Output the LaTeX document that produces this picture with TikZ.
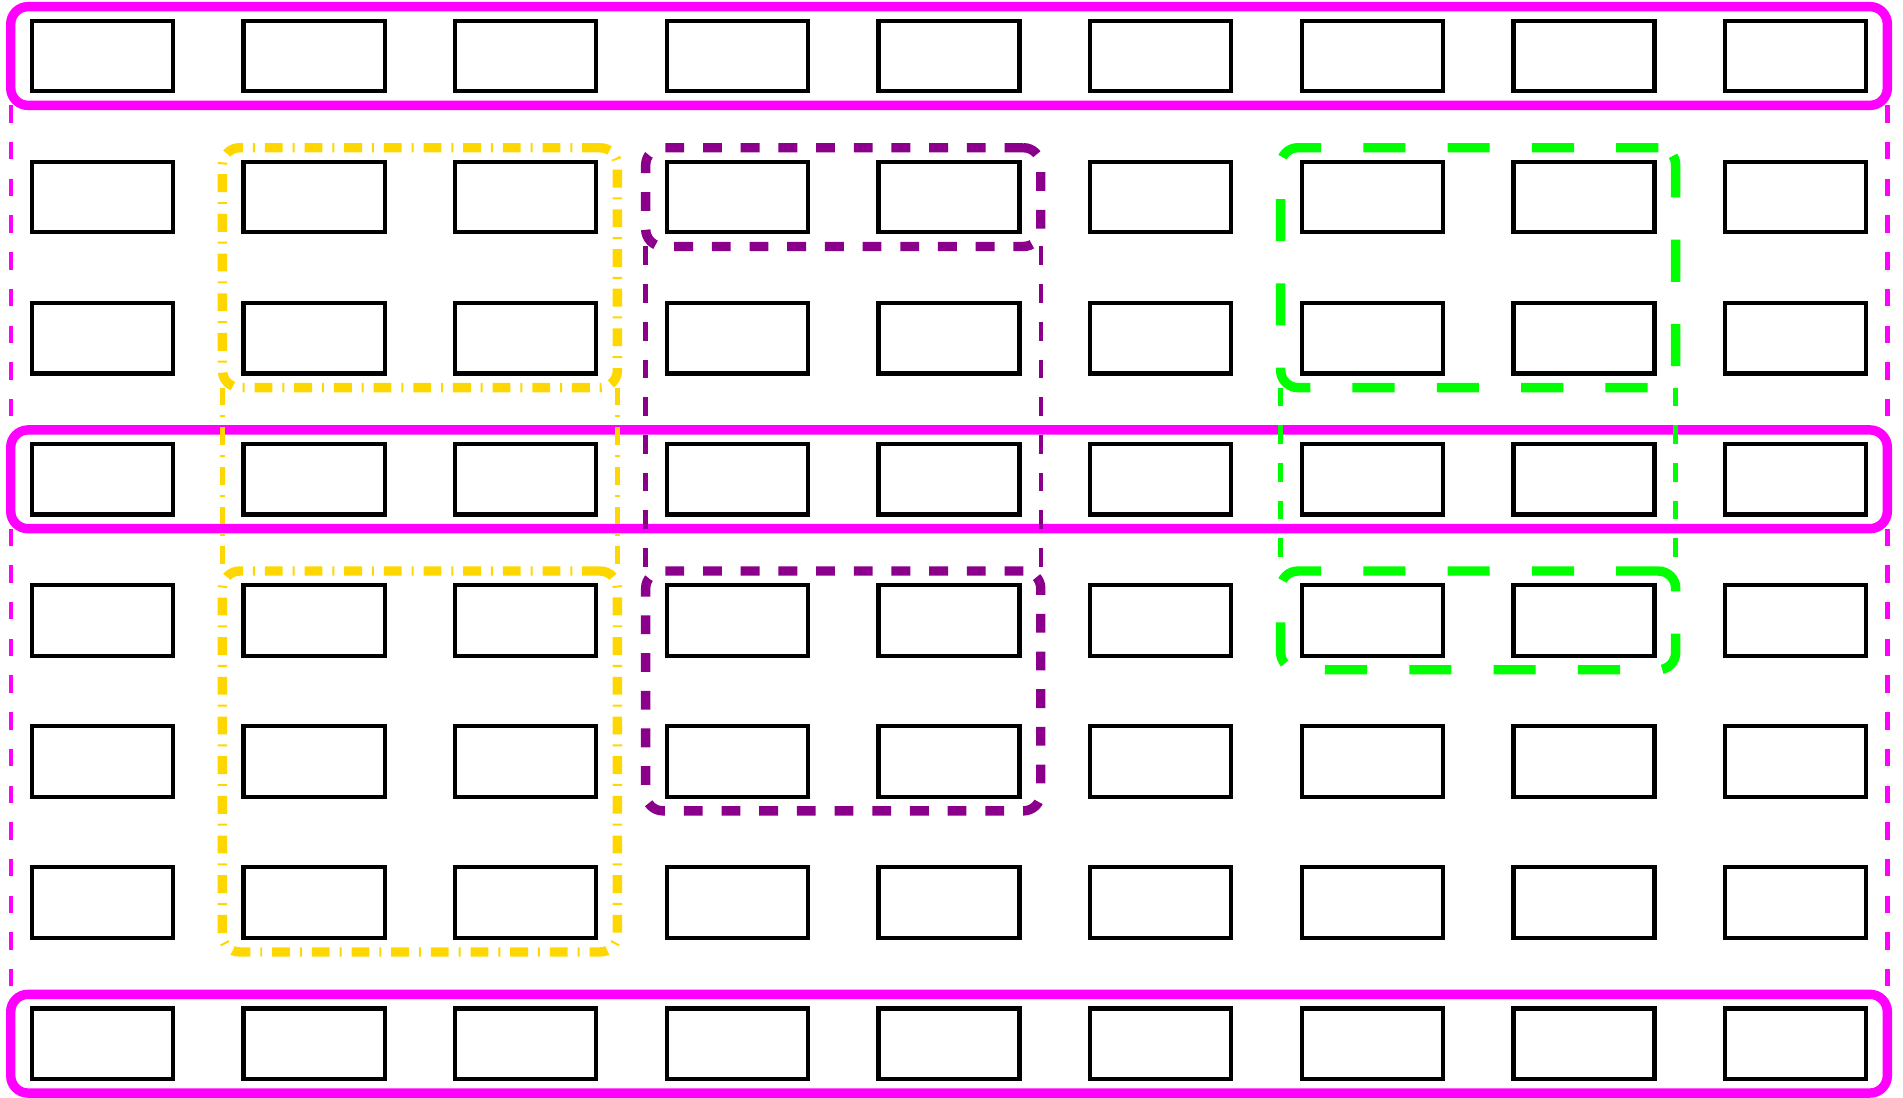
\documentclass[tikz,border=0pt]{standalone}
\usetikzlibrary{fit}
\definecolor{mag}{RGB}{255,0,255}
\definecolor{gold}{RGB}{255,215,0}
\definecolor{purp}{RGB}{139,0,139}
\definecolor{grn}{RGB}{0,255,0}
\tikzset{
  cell/.style={draw, line width=0.85pt, minimum width=1cm, minimum height=0.5cm, inner sep=0pt},
  grp/.style={draw, line width=1.9pt, rounded corners=3.5pt, inner xsep=0.135cm, inner ysep=0.085cm, outer sep=0pt},
  magthick/.style={grp, draw=mag},
  yelthick/.style={grp, draw=gold, dash pattern=on 3.6pt off 2pt on 0.4pt off 2pt},
  purthick/.style={grp, draw=purp, dash pattern=on 3.8pt off 3.8pt},
  grnthick/.style={grp, draw=grn, dash pattern=on 8.5pt off 8.5pt},
  thinln/.style={line width=0.9pt},
  magthin/.style={thinln, draw=mag, dash pattern=on 3.5pt off 3.9pt},
  yelthin/.style={thinln, draw=gold, dash pattern=on 3.6pt off 2pt on 0.4pt off 2pt},
  purthin/.style={thinln, draw=purp, dash pattern=on 3.8pt off 3.8pt},
  grnthin/.style={thinln, draw=grn, dash pattern=on 3.8pt off 3.8pt}
}
\begin{document}
\begin{tikzpicture}
\useasboundingbox (0,0) rectangle (13.487,-7.775);
\foreach \r in {1,...,8} {
  \foreach \c in {1,...,9} {
    \node[cell] (n-\r-\c) at ({0.726+1.5*(\c-1)},{-0.397-(\r-1)}) {};
  }
}
% thick group outlines
\node[magthick, fit=(n-1-1)(n-1-9)] (m1) {};
\node[magthick, fit=(n-4-1)(n-4-9)] (m4) {};
\node[magthick, fit=(n-8-1)(n-8-9)] (m8) {};
\node[yelthick, fit=(n-2-2)(n-3-3)] (y1) {};
\node[yelthick, fit=(n-5-2)(n-7-3)] (y2) {};
\node[purthick, fit=(n-2-4)(n-2-5)] (p1) {};
\node[purthick, fit=(n-5-4)(n-6-5)] (p2) {};
\node[grnthick, fit=(n-2-7)(n-3-8)] (g1) {};
\node[grnthick, fit=(n-5-7)(n-5-8)] (g2) {};
% thin connecting sides
\draw[magthin] (m1.south west) -- (m4.north west);
\draw[magthin] (m4.south west) -- (m8.north west);
\draw[magthin] (m1.south east) -- (m4.north east);
\draw[magthin] (m4.south east) -- (m8.north east);
\draw[yelthin] (y1.south west) -- (y2.north west);
\draw[yelthin] (y1.south east) -- (y2.north east);
\draw[purthin] (p1.south west) -- (p2.north west);
\draw[purthin] (p1.south east) -- (p2.north east);
\draw[grnthin] (g1.south west) -- (g2.north west);
\draw[grnthin] (g1.south east) -- (g2.north east);
\end{tikzpicture}
\end{document}
